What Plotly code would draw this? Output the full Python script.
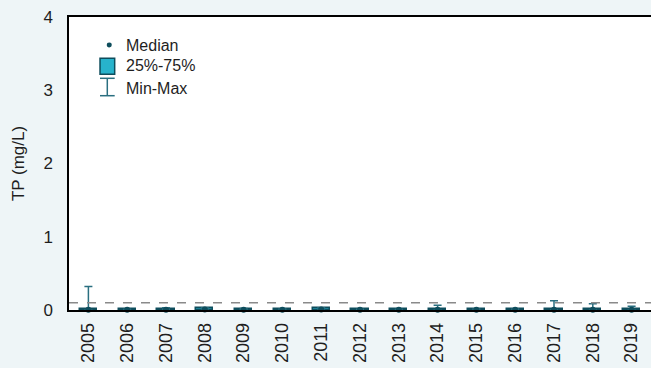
import plotly.graph_objects as go

# Annual total phosphorus statistics (mg/L)
years = ["2005", "2006", "2007", "2008", "2009", "2010", "2011", "2012",
         "2013", "2014", "2015", "2016", "2017", "2018", "2019"]
tp_min = [0.0, 0.0, 0.0, 0.0, 0.0, 0.0, 0.0, 0.0, 0.0, 0.0, 0.0, 0.0, 0.0, 0.0, 0.0]
tp_q1 = [0.002, 0.001, 0.002, 0.003, 0.002, 0.001, 0.003, 0.001, 0.001, 0.002, 0.001, 0.001, 0.002, 0.001, 0.002]
tp_median = [0.005, 0.002, 0.004, 0.006, 0.004, 0.003, 0.006, 0.002, 0.002, 0.004, 0.002, 0.002, 0.004, 0.003, 0.005]
tp_q3 = [0.02, 0.01, 0.02, 0.022, 0.015, 0.012, 0.022, 0.01, 0.01, 0.018, 0.01, 0.01, 0.018, 0.012, 0.02]
tp_max = [0.32, 0.01, 0.03, 0.03, 0.02, 0.012, 0.03, 0.01, 0.01, 0.065, 0.012, 0.012, 0.125, 0.085, 0.05]
guideline = 0.1

dark = "#0E4D5C"
bar_teal = "#2A6F80"
box_fill = "#27B3CC"
text_color = "#1E1E1E"

fig = go.Figure()

# Interquartile boxes
fig.add_trace(go.Bar(
    x=years,
    y=[q3 - q1 for q1, q3 in zip(tp_q1, tp_q3)],
    base=tp_q1,
    width=0.44,
    marker=dict(color=box_fill, line=dict(color=dark, width=1.5)),
    showlegend=False,
    hoverinfo="skip",
))

# Min-max whiskers
fig.add_trace(go.Scatter(
    x=years,
    y=[(lo + hi) / 2 for lo, hi in zip(tp_min, tp_max)],
    mode="markers",
    marker=dict(size=1, color="rgba(0,0,0,0)"),
    error_y=dict(type="data", symmetric=True,
                 array=[(hi - lo) / 2 for lo, hi in zip(tp_min, tp_max)],
                 color=bar_teal, thickness=1.5, width=4),
    showlegend=False,
    hoverinfo="skip",
))

# Medians
fig.add_trace(go.Scatter(
    x=years, y=tp_median, mode="markers",
    marker=dict(size=6, color=dark),
    cliponaxis=False,
    showlegend=False,
))

# Guideline
fig.add_shape(type="line", xref="paper", x0=0, x1=1, yref="y", y0=guideline, y1=guideline,
              line=dict(color="#8A8A8A", width=1.5, dash="dash"))

# Legend drawn by hand
fig.add_shape(type="circle", xref="paper", yref="paper",
              x0=0.0649, x1=0.0735, y0=0.896, y1=0.913,
              fillcolor=dark, line=dict(width=0))
fig.add_shape(type="rect", xref="paper", yref="paper",
              x0=0.0533, x1=0.0785, y0=0.8044, y1=0.859,
              fillcolor=box_fill, line=dict(color=dark, width=1.5))
fig.add_shape(type="line", xref="paper", yref="paper",
              x0=0.0658, x1=0.0658, y0=0.7314, y1=0.7908,
              line=dict(color=bar_teal, width=1.5))
for yc in (0.7314, 0.7908):
    fig.add_shape(type="line", xref="paper", yref="paper",
                  x0=0.0533, x1=0.0785, y0=yc, y1=yc,
                  line=dict(color=bar_teal, width=1.5))
for label, yp in [("Median", 0.9044), ("25%-75%", 0.8328), ("Min-Max", 0.7567)]:
    fig.add_annotation(text=label, xref="paper", yref="paper", x=0.094, y=yp,
                       xanchor="left", yanchor="middle", showarrow=False,
                       font=dict(size=16, color=text_color))

fig.update_layout(
    width=651, height=368,
    margin=dict(l=69, r=0, t=17, b=58),
    paper_bgcolor="#EEF5F7",
    plot_bgcolor="white",
    font=dict(family="Liberation Sans, Arial, sans-serif", color=text_color),
    bargap=0,
    xaxis=dict(
        type="category", range=[-0.5, 14.5],
        showline=True, linecolor="black", linewidth=1.5, mirror=True,
        showgrid=False, ticks="", tickangle=-90,
        ticklabelstandoff=4,
        tickfont=dict(size=18),
    ),
    yaxis=dict(
        range=[0, 4], dtick=1,
        showline=True, linecolor="black", linewidth=1.5,
        showgrid=False, zeroline=False, ticks="",
        ticklabelstandoff=11,
        tickfont=dict(size=17),
        title=dict(text="TP (mg/L)", font=dict(size=17), standoff=14),
    ),
)

fig.write_html("out.html")
